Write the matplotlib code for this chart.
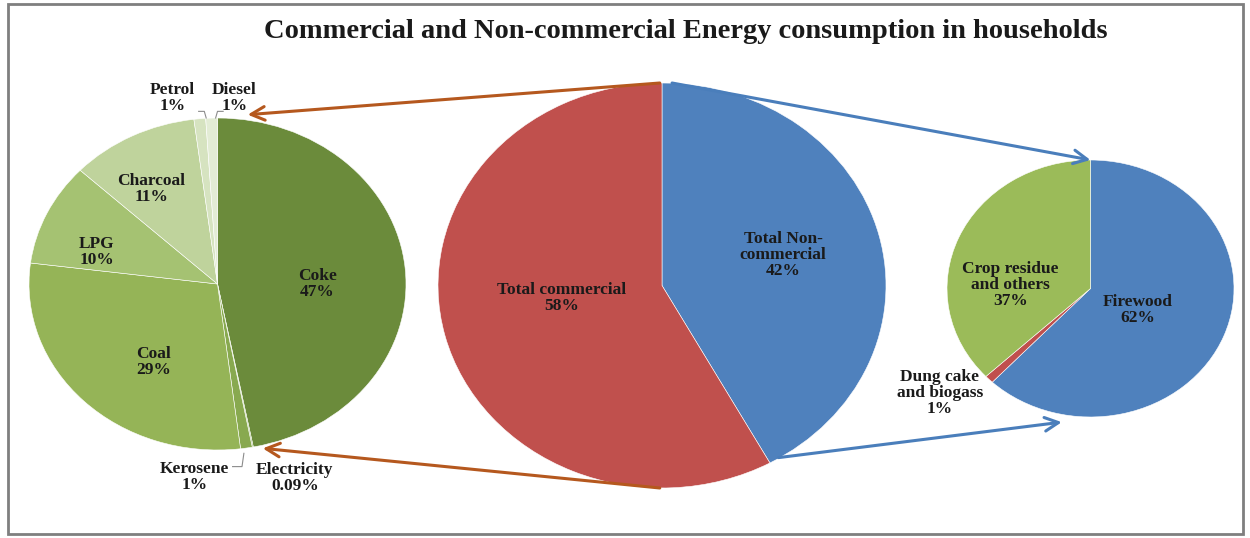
import matplotlib.pyplot as plt
from matplotlib.patches import FancyArrowPatch, Rectangle

plt.rcParams["font.family"] = ["Liberation Serif", "DejaVu Serif"]

# commercial breakdown (left pie)
comm_labels = ["Coke", "Electricity", "Kerosene", "Coal", "LPG",
               "Charcoal", "Petrol", "Diesel"]
comm_values = [47, 0.09, 1, 29, 10, 11, 1, 1]
comm_pct = ["47%", "0.09%", "1%", "29%", "10%", "11%", "1%", "1%"]
comm_colors = ["#6b8b3b", "#7d9e45", "#88a94f", "#95b457", "#a5c272",
               "#bfd39c", "#d6e3c0", "#e3ecd5"]

# total split (middle pie)
total_labels = ["Total Non-\ncommercial", "Total commercial"]
total_values = [42, 58]
total_pct = ["42%", "58%"]
total_colors = ["#4f81bd", "#c0504d"]

# non-commercial breakdown (right pie)
nonc_labels = ["Firewood", "Dung cake\nand biogass", "Crop residue\nand others"]
nonc_values = [62, 1, 37]
nonc_pct = ["62%", "1%", "37%"]
nonc_colors = ["#4f81bd", "#c0504d", "#9bbb59"]

W, H = 1250, 538
fig = plt.figure(figsize=(W / 100, H / 100), dpi=100)


def px_axes(x0, y0, x1, y1):
    return fig.add_axes([x0 / W, 1 - y1 / H, (x1 - x0) / W, (y1 - y0) / H])


def draw_pie(ax, values, colors):
    ax.pie(values, colors=colors, startangle=90, counterclock=False,
           wedgeprops=dict(edgecolor="white", linewidth=0.4))
    ax.set_aspect("auto")
    ax.set_xlim(-1, 1)
    ax.set_ylim(-1, 1)
    ax.axis("off")


ax_l = px_axes(29, 118, 406, 450)
ax_m = px_axes(438, 83, 886, 488)
ax_r = px_axes(947, 160, 1234, 417)

draw_pie(ax_l, comm_values, comm_colors)
draw_pie(ax_m, total_values, total_colors)
draw_pie(ax_r, nonc_values, nonc_colors)

lab_kw = dict(ha="center", va="center", fontsize=12.5, fontweight="bold",
              color="#1a1a1a", linespacing=1.0)

# label positions (axes data coords of each pie)
left_pos = [(0.53, 0.0), (0.41, -1.17), (-0.12, -1.16), (-0.34, -0.47),
            (-0.64, 0.19), (-0.35, 0.57), (-0.24, 1.12), (0.09, 1.12)]
for name, pct, (x, y) in zip(comm_labels, comm_pct, left_pos):
    ax_l.text(x, y, f"{name}\n{pct}", clip_on=False, **lab_kw)

mid_pos = [(0.54, 0.15), (-0.45, -0.06)]
for name, pct, (x, y) in zip(total_labels, total_pct, mid_pos):
    ax_m.text(x, y, f"{name}\n{pct}", **lab_kw)

right_pos = [(0.33, -0.17), (-1.05, -0.81), (-0.56, 0.03)]
for name, pct, (x, y) in zip(nonc_labels, nonc_pct, right_pos):
    ax_r.text(x, y, f"{name}\n{pct}", clip_on=False, **lab_kw)

# leader lines for small slices
lead = dict(color="#8c8c8c", lw=0.8, clip_on=False)
ax_l.plot([-0.10, -0.07, -0.06], [1.04, 1.04, 1.0], **lead)
ax_l.plot([0.03, 0.0, -0.01], [1.04, 1.04, 1.0], **lead)
ax_l.plot([0.08, 0.13, 0.14], [-1.10, -1.10, -1.02], **lead)

# connecting arrows (middle pie -> side pies)
brown = "#b5581e"
blue = "#4a7ebb"
arrows = [
    (ax_m, (-0.01, 1.0), ax_l, (0.16, 1.02), brown),
    (ax_m, (-0.01, -1.0), ax_l, (0.24, -0.99), brown),
    (ax_m, (0.045, 1.0), ax_r, (0.0, 1.0), blue),
    (ax_m, (0.52, -0.85), ax_r, (-0.2, -1.04), blue),
]
to_fig = fig.transFigure.inverted()
for axa, pa, axb, pb, col in arrows:
    start = to_fig.transform(axa.transData.transform(pa))
    end = to_fig.transform(axb.transData.transform(pb))
    arr = FancyArrowPatch(start, end, transform=fig.transFigure,
                          arrowstyle="->,head_length=0.7,head_width=0.35",
                          color=col, lw=2.2, mutation_scale=14,
                          shrinkA=0, shrinkB=0, zorder=5)
    fig.add_artist(arr)

fig.text(686 / W, 1 - 31 / H,
         "Commercial and Non-commercial Energy consumption in households",
         ha="center", va="center", fontsize=20.5, fontweight="bold",
         color="#1a1a1a")

fig.add_artist(Rectangle((8 / W, 1 - 534 / H), 1235 / W, 530 / H,
                         transform=fig.transFigure, fill=False,
                         edgecolor="#7f7f7f", lw=2))

fig.savefig("out.png", dpi=100)
